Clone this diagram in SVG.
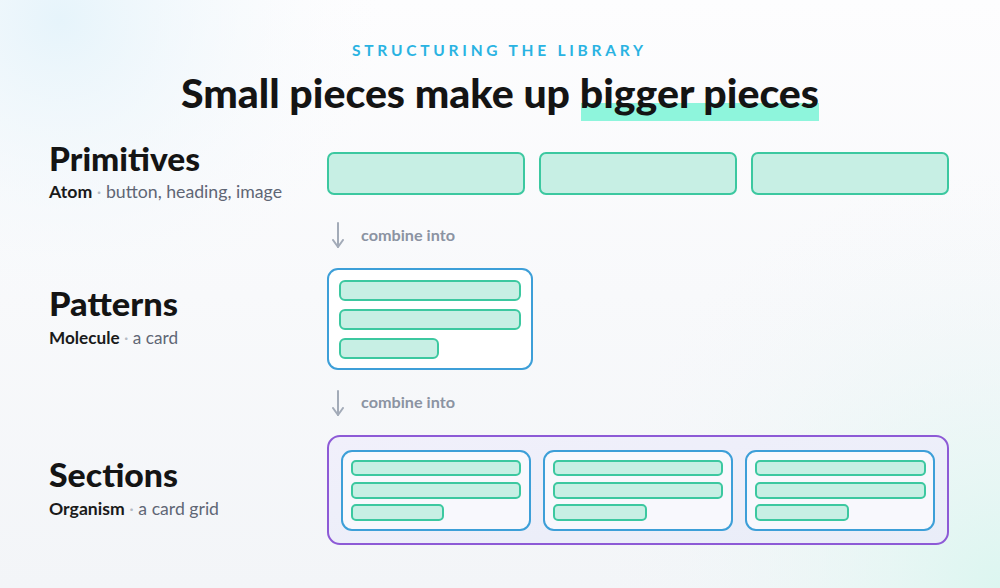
<svg xmlns="http://www.w3.org/2000/svg" width="1000" height="588" viewBox="0 0 1000 588">
<defs>
<radialGradient id="glowTL" cx="60" cy="20" r="320" gradientUnits="userSpaceOnUse">
<stop offset="0" stop-color="#e6f4fb"/>
<stop offset="1" stop-color="#f9fafc" stop-opacity="0"/>
</radialGradient>
<radialGradient id="glowBR" cx="1000" cy="588" r="420" gradientUnits="userSpaceOnUse">
<stop offset="0" stop-color="#dcf6f0"/>
<stop offset="1" stop-color="#f5f7fa" stop-opacity="0"/>
</radialGradient>
<linearGradient id="bg" x1="0" y1="0" x2="0" y2="1">
<stop offset="0" stop-color="#fdfdfe"/>
<stop offset="1" stop-color="#f3f5f8"/>
</linearGradient>
<linearGradient id="orgFill" x1="0" y1="0" x2="1" y2="1">
<stop offset="0" stop-color="#f1f0fb"/>
<stop offset="1" stop-color="#e9edf8"/>
</linearGradient>
<marker id="arr" viewBox="0 0 10 12" refX="8" refY="6" markerWidth="10" markerHeight="12" markerUnits="userSpaceOnUse" orient="auto">
<path d="M1 1 L8 6 L1 11" fill="none" stroke="#a3abb8" stroke-width="2" stroke-linecap="round" stroke-linejoin="round"/>
</marker>
<style>
.font{font-family:"Lato","Noto Sans","Liberation Sans",sans-serif}
.sub{font-size:15.5px;font-weight:700;fill:#2ab3e2;letter-spacing:3px}
.title{font-size:40px;font-weight:900;fill:#141414}
.h{font-size:32px;font-weight:900;fill:#141414}
.desc{font-size:17px;fill:#5f6675}
.desc .b{font-weight:700;fill:#1a1a1a}
.desc .dot{fill:#b5bac4}
.lbl{font-size:15px;font-weight:700;fill:#8b93a2}
.atom{fill:#c7efe4;stroke:#3cc8a0;stroke-width:2}
.card{fill:#ffffff;stroke:#3d9fd8;stroke-width:2}
.card2{fill:#f8f8fd;stroke:#3d9fd8;stroke-width:2}
.org{fill:url(#orgFill);stroke:#8d5ad6;stroke-width:2}
.conn{stroke:#a3abb8;stroke-width:2;fill:none;stroke-linecap:round}
</style>
</defs>
<rect width="1000" height="588" fill="url(#bg)"/>
<rect width="1000" height="588" fill="url(#glowTL)"/>
<rect width="1000" height="588" fill="url(#glowBR)"/>

<g id="header" class="font">
<text class="sub" x="352" y="56" textLength="294" lengthAdjust="spacing">STRUCTURING THE LIBRARY</text>
<rect x="581" y="103" width="238" height="18" fill="#8ef5dc"/>
<text class="title" x="181" y="108" textLength="638" lengthAdjust="spacingAndGlyphs">Small pieces make up bigger pieces</text>
</g>

<g id="primitives-label" class="font">
<text class="h" x="49" y="171" textLength="151" lengthAdjust="spacingAndGlyphs">Primitives</text>
<text class="desc" x="49" y="198" textLength="233" lengthAdjust="spacingAndGlyphs"><tspan class="b">Atom</tspan><tspan class="dot"> · </tspan>button, heading, image</text>
</g>
<g id="primitives">
<rect class="atom" x="328" y="153" width="196" height="41" rx="6"/>
<rect class="atom" x="540" y="153" width="196" height="41" rx="6"/>
<rect class="atom" x="752" y="153" width="196" height="41" rx="6"/>
</g>

<g id="connectors">
<line class="conn" x1="338" y1="223" x2="338" y2="247" marker-end="url(#arr)"/>
<line class="conn" x1="338" y1="391" x2="338" y2="415" marker-end="url(#arr)"/>
</g>
<g id="connector-labels" class="font">
<text class="lbl" x="361" y="241" textLength="94" lengthAdjust="spacingAndGlyphs">combine into</text>
<text class="lbl" x="361" y="408" textLength="94" lengthAdjust="spacingAndGlyphs">combine into</text>
</g>

<g id="patterns-label" class="font">
<text class="h" x="49" y="316" textLength="129" lengthAdjust="spacingAndGlyphs">Patterns</text>
<text class="desc" x="49" y="344" textLength="129" lengthAdjust="spacingAndGlyphs"><tspan class="b">Molecule</tspan><tspan class="dot"> · </tspan>a card</text>
</g>
<g id="patterns">
<rect class="card" x="328" y="269" width="204" height="100" rx="10"/>
<rect class="atom" x="340" y="281" width="180" height="19" rx="5"/>
<rect class="atom" x="340" y="310" width="180" height="19" rx="5"/>
<rect class="atom" x="340" y="339" width="98" height="19" rx="5"/>
</g>

<g id="sections-label" class="font">
<text class="h" x="49" y="487" textLength="129" lengthAdjust="spacingAndGlyphs">Sections</text>
<text class="desc" x="49" y="515" textLength="170" lengthAdjust="spacingAndGlyphs"><tspan class="b">Organism</tspan><tspan class="dot"> · </tspan>a card grid</text>
</g>
<g id="sections">
<rect class="org" x="328" y="436" width="620" height="108" rx="12"/>
<g id="sec-card-1">
<rect class="card2" x="342" y="451" width="188" height="79" rx="10"/>
<rect class="atom" x="352" y="461" width="168" height="14" rx="4"/>
<rect class="atom" x="352" y="483" width="168" height="15" rx="4"/>
<rect class="atom" x="352" y="505" width="91" height="15" rx="4"/>
</g>
<g id="sec-card-2">
<rect class="card2" x="544" y="451" width="188" height="79" rx="10"/>
<rect class="atom" x="554" y="461" width="168" height="14" rx="4"/>
<rect class="atom" x="554" y="483" width="168" height="15" rx="4"/>
<rect class="atom" x="554" y="505" width="92" height="15" rx="4"/>
</g>
<g id="sec-card-3">
<rect class="card2" x="746" y="451" width="188" height="79" rx="10"/>
<rect class="atom" x="756" y="461" width="169" height="14" rx="4"/>
<rect class="atom" x="756" y="483" width="169" height="15" rx="4"/>
<rect class="atom" x="756" y="505" width="92" height="15" rx="4"/>
</g>
</g>
</svg>
